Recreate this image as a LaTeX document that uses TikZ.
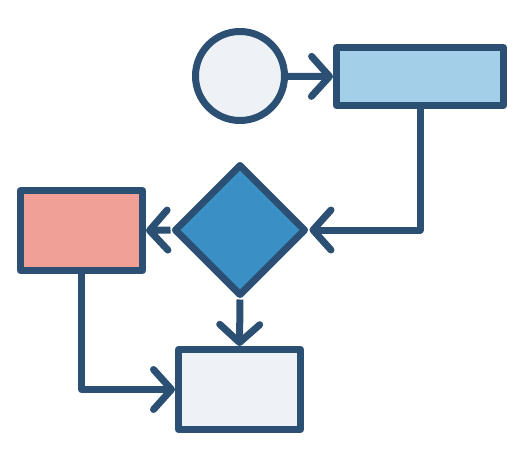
\documentclass[tikz,border=0pt]{standalone}
\usetikzlibrary{shapes.geometric,arrows.meta}
\definecolor{navy}{HTML}{2C5074}
\definecolor{pale}{HTML}{EEF2F7}
\definecolor{sky}{HTML}{A3CFE8}
\definecolor{midblue}{HTML}{3A8FC5}
\definecolor{salmon}{HTML}{F0A096}
\begin{document}
\begin{tikzpicture}[x=1pt,y=-1pt,
  shapeline/.style={draw=navy,line width=7pt,line join=round,inner sep=0pt},
  boxnode/.style={shapeline,rectangle},
  conn/.style={draw=navy,line width=7pt,line join=round,
    -{Straight Barb[length=18pt,width=40pt,round]}}]
\useasboundingbox (0,0) rectangle (514,450);
\node[shapeline,circle,fill=pale,minimum size=89pt] (start) at (240,76) {};
\node[boxnode,fill=sky,minimum width=167pt,minimum height=58pt] (top) at (420,76.5) {};
\node[shapeline,diamond,aspect=1,fill=midblue,minimum width=132pt,minimum height=132pt] (dec) at (240,230) {};
\node[boxnode,fill=salmon,minimum width=122pt,minimum height=80pt] (red) at (81.5,230.5) {};
\node[boxnode,fill=pale,minimum width=122pt,minimum height=80pt] (bot) at (239.5,389.5) {};
\draw[conn] (start) -- (top.west);
\draw[conn] (top.south) |- (dec.east);
\draw[conn] (dec.west) -- (red.east);
\draw[conn] (dec.south) -- (bot.north);
\draw[conn] (red.south) |- (bot.west);
\end{tikzpicture}
\end{document}
